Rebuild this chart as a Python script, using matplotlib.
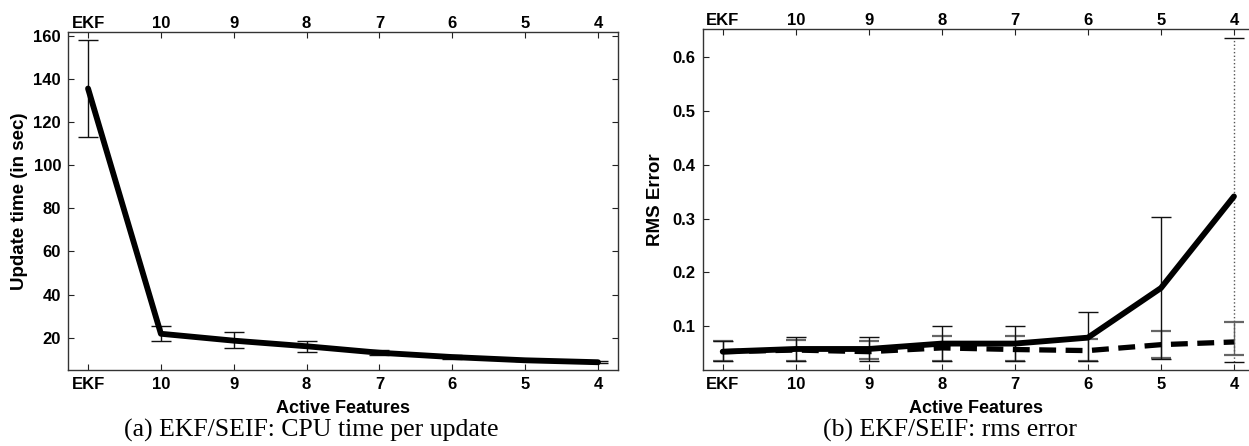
import matplotlib
matplotlib.use("Agg")
import matplotlib.pyplot as plt
import numpy as np

# x categories (number of active features)
labels = ["EKF", "10", "9", "8", "7", "6", "5", "4"]

# (a) CPU time per update
cpu_time = [135.5, 21.8, 18.6, 16.0, 13.0, 11.0, 9.5, 8.6]
cpu_lo = [113.0, 18.5, 15.0, 13.5, 12.0, 10.2, 9.1, 8.2]
cpu_hi = [158.0, 25.5, 22.5, 18.5, 14.5, 11.8, 10.0, 9.0]

# (b) rms error, SEIF (solid) and EKF reference (dashed)
rms_seif = [0.053, 0.058, 0.058, 0.068, 0.068, 0.079, 0.171, 0.341]
rms_seif_lo = [0.035, 0.035, 0.035, 0.035, 0.035, 0.036, 0.040, 0.034]
rms_seif_hi = [0.072, 0.080, 0.080, 0.101, 0.101, 0.126, 0.303, 0.635]

rms_ekf = [0.053, 0.056, 0.053, 0.060, 0.057, 0.055, 0.066, 0.071]
rms_ekf_lo = [0.035, 0.035, 0.040, 0.035, 0.036, 0.036, 0.042, 0.047]
rms_ekf_hi = [0.072, 0.075, 0.073, 0.082, 0.082, 0.076, 0.092, 0.108]

plt.rcParams['font.family'] = ['Liberation Sans', 'DejaVu Sans']
plt.rcParams['font.weight'] = 'bold'

W, H = 1249, 446
fig = plt.figure(figsize=(W / 100, H / 100), dpi=100)

x = np.arange(len(labels))


def style_axes(ax, right_spine=True):
    ax.set_xticks(x)
    ax.set_xticklabels(labels)
    ax.tick_params(axis='both', direction='in', length=4, width=0.8,
                   labelsize=12, colors='#222222', labelcolor='black')
    ax.tick_params(axis='x', top=True, labeltop=False, pad=5)
    ax.tick_params(axis='y', right=right_spine, pad=5)
    for lbl in ax.get_xticklabels() + ax.get_yticklabels():
        lbl.set_fontweight('bold')
    for s in ax.spines.values():
        s.set_color('#333333')
        s.set_linewidth(1.0)
    if not right_spine:
        ax.spines['right'].set_visible(False)
    ax.set_xlabel("Active Features", fontsize=13, fontweight='bold', labelpad=6)

    # top labels sit a little closer to the frame than the bottom ones
    top = ax.secondary_xaxis('top')
    top.set_xticks(x)
    top.set_xticklabels(labels, fontsize=12, fontweight='bold')
    top.tick_params(direction='in', length=0, pad=1)
    top.spines['top'].set_visible(False)


# ---- (a) ----
ax1 = fig.add_axes([68 / W, 1 - 370 / H, (617.7 - 68) / W, (370 - 32) / H])
yerr = [np.array(cpu_time) - np.array(cpu_lo), np.array(cpu_hi) - np.array(cpu_time)]
ax1.errorbar(x, cpu_time, yerr=yerr, fmt='none', ecolor='#111111',
             elinewidth=1.0, capsize=7.5, capthick=1.0, zorder=2)
ax1.plot(x, cpu_time, color='black', lw=4.2, solid_capstyle='round', zorder=3)
ax1.set_xlim(-0.275, 7.27)
ax1.set_ylim(5, 161.7)
ax1.set_yticks(np.arange(20, 161, 20))
ax1.set_ylabel("Update time (in sec)", fontsize=13.5, fontweight='bold', labelpad=4)
style_axes(ax1)

# ---- (b) ----
ax2 = fig.add_axes([702.7 / W, 1 - 370 / H, (W - 702.7) / W, (370 - 29.3) / H])
ekf_err = [np.array(rms_ekf) - np.array(rms_ekf_lo), np.array(rms_ekf_hi) - np.array(rms_ekf)]
ax2.errorbar(x, rms_ekf, yerr=ekf_err, fmt='none', ecolor='#666666',
             elinewidth=1.0, capsize=7.5, capthick=1.6, zorder=2)
seif_err = [np.array(rms_seif) - np.array(rms_seif_lo), np.array(rms_seif_hi) - np.array(rms_seif)]
ax2.errorbar(x[:-1], rms_seif[:-1], yerr=[e[:-1] for e in seif_err], fmt='none',
             ecolor='#111111', elinewidth=1.0, capsize=7.5, capthick=1.0, zorder=2)
eb = ax2.errorbar(x[-1:], rms_seif[-1:], yerr=[e[-1:] for e in seif_err], fmt='none',
                  ecolor='#111111', elinewidth=1.0, capsize=7.5, capthick=1.0, zorder=2)
eb[2][0].set_linestyle(':')
eb[2][0].set_color('#555555')
ax2.plot(x, rms_ekf, color='black', lw=3.8, linestyle=(0, (3.2, 1.8)), zorder=3)
ax2.plot(x, rms_seif, color='black', lw=4.2, solid_capstyle='round', zorder=4)
ax2.set_xlim(-0.274, 7.206)
ax2.set_ylim(0.019, 0.651)
ax2.set_yticks([0.1, 0.2, 0.3, 0.4, 0.5, 0.6])
ax2.set_yticklabels(["0.1", "0.2", "0.3", "0.4", "0.5", "0.6"])
ax2.set_ylabel("RMS Error", fontsize=13.5, fontweight='bold', labelpad=6)
style_axes(ax2, right_spine=False)

# captions
cap_font = dict(family=['Liberation Serif', 'DejaVu Serif'], fontsize=18.5,
                fontweight='normal', ha='center', va='center')
fig.text(311 / W, 1 - 430 / H, "(a) EKF/SEIF: CPU time per update", **cap_font)
fig.text(950 / W, 1 - 430 / H, "(b) EKF/SEIF: rms error", **cap_font)

fig.savefig("out.png", dpi=100)
